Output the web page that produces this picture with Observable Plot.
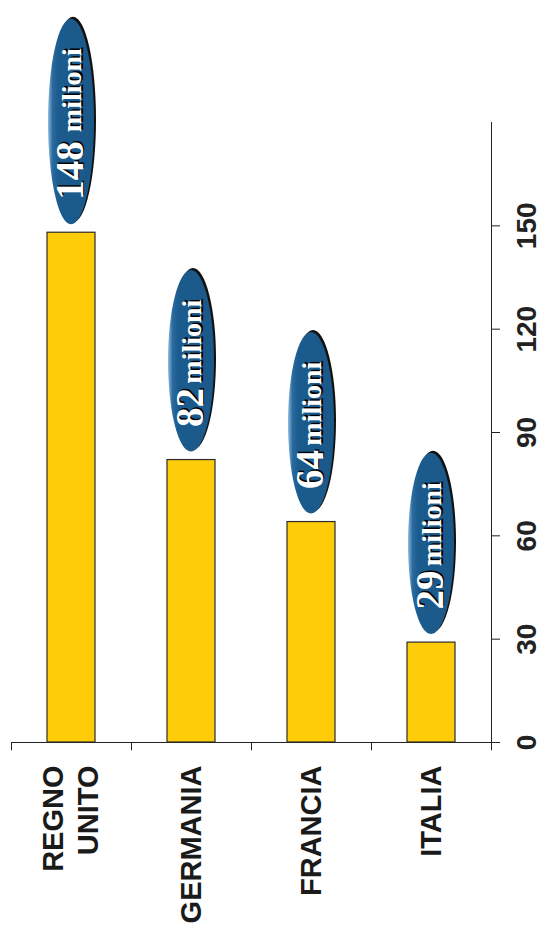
<!DOCTYPE html>
<html>
<head>
<meta charset="utf-8">
<script src="https://cdn.jsdelivr.net/npm/d3@7"></script>
<script src="https://cdn.jsdelivr.net/npm/@observablehq/plot@0.6"></script>
<style>
  body { margin: 0; background: #fff; }
  #chart svg { display: block; }
</style>
</head>
<body>
<div id="chart"></div>
<script>
// Visitatori per paese (milioni)
const countries = ["REGNO\nUNITO", "GERMANIA", "FRANCIA", "ITALIA"];
const visitors = [148, 82, 64, 29];
const yTicks = [0, 30, 60, 90, 120, 150];
const unitLabel = "milioni";

const data = countries.map((country, i) => ({country, value: visitors[i]}));

// length of each value bubble, in value units (wider numbers get a longer bubble)
const bubbleSpan = d => 41 + 7 * String(d.value).length;

const sans = "'Liberation Sans Narrow', 'Arial Narrow', 'Liberation Sans', Arial, sans-serif";
const serif = "'Liberation Serif', 'Times New Roman', 'DejaVu Serif', serif";

// gradient used by the bubbles: light rim on the left, solid blue body
const bubbleDefs = () => {
  const defs = d3.create("svg:defs");
  const g = defs.append("linearGradient").attr("id", "bubble").attr("x1", 0).attr("x2", 1).attr("y1", 0).attr("y2", 0);
  g.append("stop").attr("offset", "0%").attr("stop-color", "#8fbbe0");
  g.append("stop").attr("offset", "10%").attr("stop-color", "#2a6a9e");
  g.append("stop").attr("offset", "22%").attr("stop-color", "#1b5b8d");
  g.append("stop").attr("offset", "100%").attr("stop-color", "#1a5888");
  return defs.node();
};

const chart = Plot.plot({
  width: 545,
  height: 930,
  marginLeft: 11,
  marginRight: 54,
  marginTop: 122,
  marginBottom: 188,
  x: {domain: countries, padding: 0, axis: null},
  y: {domain: [0, 180], axis: null},
  marks: [
    bubbleDefs,
    // value axis on the right
    Plot.frame({anchor: "right", stroke: "#222"}),
    Plot.axisY({anchor: "right", ticks: yTicks, tickSize: 8, tickFormat: () => "", label: null, stroke: "#222"}),
    Plot.text(yTicks, {
      y: d => d, text: d => String(d), frameAnchor: "right", dx: 36,
      rotate: -90, textAnchor: "middle", lineAnchor: "middle",
      fontSize: 28, fontWeight: "bold", fontFamily: sans, fill: "#222"
    }),
    // baseline with category separators
    Plot.ruleY([0], {stroke: "#222", insetRight: -8}),
    Plot.ruleX(data, {x: "country", dx: -60, y1: 0, y2: -2.4, stroke: "#222"}),
    Plot.ruleX(data.slice(-1), {x: "country", dx: 60, y1: 0, y2: -2.4, stroke: "#222"}),
    // bars
    Plot.barY(data, {
      x: "country", y: "value", insetLeft: 36, insetRight: 36,
      fill: "#FFCC0A", stroke: "#2b2b2b", strokeWidth: 1.2
    }),
    // bubble shadow + bubble
    Plot.barY(data, {
      x: "country", y1: "value", y2: d => d.value + bubbleSpan(d),
      insetBottom: 8, insetLeft: 37, insetRight: 37, rx: "50%", ry: "50%",
      fill: "#111", dx: 2, dy: -2
    }),
    Plot.barY(data, {
      x: "country", y1: "value", y2: d => d.value + bubbleSpan(d),
      insetBottom: 8, insetLeft: 37, insetRight: 37, rx: "50%", ry: "50%",
      fill: "url(#bubble)"
    }),
    // bubble text: shadow then white
    ...[["#000", 1.5, -1.5], ["#fff", 0, 0]].flatMap(([fill, ox, oy]) => [
      Plot.text(data, {
        x: "country", y: "value", text: d => String(d.value),
        rotate: -90, textAnchor: "start", lineAnchor: "middle",
        dx: -1 + ox, dy: -33 + oy,
        fontSize: 39, fontWeight: "bold", fontFamily: serif, fill
      }),
      Plot.text(data, {
        x: "country", y: d => d.value + bubbleSpan(d), text: () => unitLabel,
        rotate: -90, textAnchor: "end", lineAnchor: "middle",
        dx: 1 + ox, dy: 29 + oy,
        fontSize: 28, fontWeight: "bold", fontFamily: serif, fill
      })
    ]),
    // category labels
    Plot.text(data, {
      x: "country", y: () => 0, text: "country",
      rotate: -90, textAnchor: "end", lineAnchor: "middle", lineHeight: 1.2,
      dx: -2, dy: 23,
      fontSize: 29, fontWeight: "bold", fontFamily: sans, fill: "#1a1a1a"
    })
  ]
});

document.getElementById("chart").append(chart);
</script>
</body>
</html>
